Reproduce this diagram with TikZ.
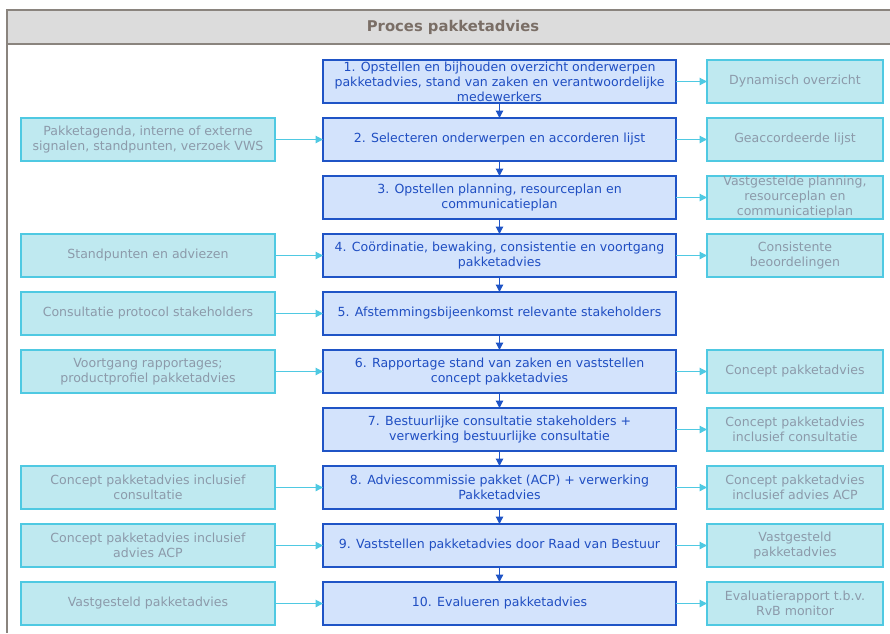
\documentclass[tikz,border=0pt]{standalone}
\usepackage{fontspec}
\setmainfont{DejaVu Sans}
\usetikzlibrary{arrows.meta,
positioning}

\definecolor{kaderlijn}{HTML}{8A847E}
\definecolor{kopvlak}{HTML}{DCDCDC}
\definecolor{koptekst}{HTML}{7A6E66}
\definecolor{stapvlak}{HTML}{D3E3FC}
\definecolor{staplijn}{HTML}{1F54C6}
\definecolor{staptekst}{HTML}{1F4EC2}
\definecolor{infovlak}{HTML}{BFE9F0}
\definecolor{infolijn}{HTML}{4FC9E2}
\definecolor{infotekst}{HTML}{8C9AAA}

\begin{document}
\begin{tikzpicture} [x = 1pt,
    y = -1pt,
    >={Triangle[length=7.5pt, width=7.5pt]},
    every node/.style={font={\fontsize{12.55}{15}\selectfont}},
    stap node/.style={rectangle, fill = stapvlak, draw = staplijn,
        text = staptekst, line width = 1.2pt, minimum width = 353pt,
        minimum height = 43pt, inner sep = 0pt, outer sep = 0pt,
        align=center},
    info node/.style={rectangle, fill = infovlak, draw = infolijn,
        text = infotekst, line width = 1.2pt, minimum height = 43pt,
        inner sep = 0pt, outer sep = 0pt, align=center},
    bron node/.style={info node, minimum width = 254pt},
    product node/.style={info node, minimum width = 176pt},
    stroom/.style={->, draw = staplijn, line width = 1.2pt},
    invoer/.style={->, draw = infolijn, line width = 1.2pt}
  ]

  \useasboundingbox (0, 0) rectangle (890, 633);

  % kader en kop
  \fill [kopvlak] (7, 10) rectangle (890, 44);
  \draw [kaderlijn, line width = 1.2pt] (890, 10) -- (7, 10) -- (7, 633);
  \draw [kaderlijn, line width = 1.2pt] (7, 44) -- (890, 44);
  \node [text = koptekst,
    font = {\fontsize{14.8}{17}\selectfont\bfseries}
  ] (titel) at (453, 27.5) {Proces pakketadvies};

  % processtappen
  \node [stap node] (stap1) at (499.5, 81.5)
    {1. Opstellen en bijhouden overzicht onderwerpen\\pakketadvies, stand van zaken en verantwoordelijke\\medewerkers};
  \node [stap node, below = 15pt of stap1] (stap2)
    {2. Selecteren onderwerpen en accorderen lijst};
  \node [stap node, below = 15pt of stap2] (stap3)
    {3. Opstellen planning, resourceplan en\\communicatieplan};
  \node [stap node, below = 15pt of stap3] (stap4)
    {4. Coördinatie, bewaking, consistentie en voortgang\\pakketadvies};
  \node [stap node, below = 15pt of stap4] (stap5)
    {5. Afstemmingsbijeenkomst relevante stakeholders};
  \node [stap node, below = 15pt of stap5] (stap6)
    {6. Rapportage stand van zaken en vaststellen\\concept pakketadvies};
  \node [stap node, below = 15pt of stap6] (stap7)
    {7. Bestuurlijke consultatie stakeholders +\\verwerking bestuurlijke consultatie};
  \node [stap node, below = 15pt of stap7] (stap8)
    {8. Adviescommissie pakket (ACP) + verwerking\\Pakketadvies};
  \node [stap node, below = 15pt of stap8] (stap9)
    {9. Vaststellen pakketadvies door Raad van Bestuur};
  \node [stap node, below = 15pt of stap9] (stap10)
    {10. Evalueren pakketadvies};

  % invoer
  \node [bron node, left = 48pt of stap2] (bron2)
    {Pakketagenda, interne of externe\\signalen, standpunten, verzoek VWS};
  \node [bron node, left = 48pt of stap4] (bron4)
    {Standpunten en adviezen};
  \node [bron node, left = 48pt of stap5] (bron5)
    {Consultatie protocol stakeholders};
  \node [bron node, left = 48pt of stap6] (bron6)
    {Voortgang rapportages;\\productprofiel pakketadvies};
  \node [bron node, left = 48pt of stap8] (bron8)
    {Concept pakketadvies inclusief\\consultatie};
  \node [bron node, left = 48pt of stap9] (bron9)
    {Concept pakketadvies inclusief\\advies ACP};
  \node [bron node, left = 48pt of stap10] (bron10)
    {Vastgesteld pakketadvies};

  % producten
  \node [product node, right = 31pt of stap1] (prod1)
    {Dynamisch overzicht};
  \node [product node, right = 31pt of stap2] (prod2)
    {Geaccordeerde lijst};
  \node [product node, right = 31pt of stap3] (prod3)
    {Vastgestelde planning,\\resourceplan en\\communicatieplan};
  \node [product node, right = 31pt of stap4] (prod4)
    {Consistente\\beoordelingen};
  \node [product node, right = 31pt of stap6] (prod6)
    {Concept pakketadvies};
  \node [product node, right = 31pt of stap7] (prod7)
    {Concept pakketadvies\\inclusief consultatie};
  \node [product node, right = 31pt of stap8] (prod8)
    {Concept pakketadvies\\inclusief advies ACP};
  \node [product node, right = 31pt of stap9] (prod9)
    {Vastgesteld\\pakketadvies};
  \node [product node, right = 31pt of stap10] (prod10)
    {Evaluatierapport t.b.v.\\RvB monitor};

  \draw [stroom] (stap1) -- (stap2);
  \draw [stroom] (stap2) -- (stap3);
  \draw [stroom] (stap3) -- (stap4);
  \draw [stroom] (stap4) -- (stap5);
  \draw [stroom] (stap5) -- (stap6);
  \draw [stroom] (stap6) -- (stap7);
  \draw [stroom] (stap7) -- (stap8);
  \draw [stroom] (stap8) -- (stap9);
  \draw [stroom] (stap9) -- (stap10);

  \draw [invoer] (bron2) -- (stap2);
  \draw [invoer] (bron4) -- (stap4);
  \draw [invoer] (bron5) -- (stap5);
  \draw [invoer] (bron6) -- (stap6);
  \draw [invoer] (bron8) -- (stap8);
  \draw [invoer] (bron9) -- (stap9);
  \draw [invoer] (bron10) -- (stap10);

  \draw [invoer] (stap1) -- (prod1);
  \draw [invoer] (stap2) -- (prod2);
  \draw [invoer] (stap3) -- (prod3);
  \draw [invoer] (stap4) -- (prod4);
  \draw [invoer] (stap6) -- (prod6);
  \draw [invoer] (stap7) -- (prod7);
  \draw [invoer] (stap8) -- (prod8);
  \draw [invoer] (stap9) -- (prod9);
  \draw [invoer] (stap10) -- (prod10);

\end{tikzpicture}
\end{document}
